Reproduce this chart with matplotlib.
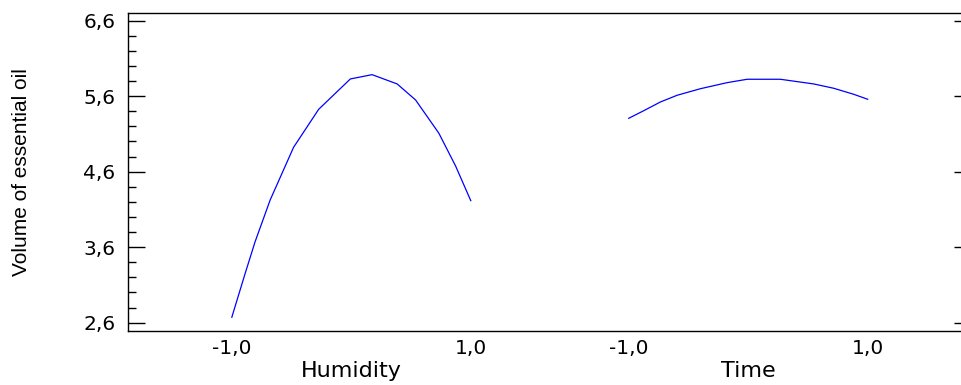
import matplotlib
matplotlib.use('Agg')
import matplotlib.pyplot as plt
from matplotlib.ticker import MultipleLocator

# Main effects plot (comma decimals, as in the original)
humidity_x = [-1.0, -0.888, -0.805, -0.679, -0.483, -0.273, -0.008, 0.174, 0.384, 0.538, 0.733, 0.873, 1.0]
humidity_y = [2.672, 3.254, 3.673, 4.225, 4.923, 5.426, 5.828, 5.885, 5.762, 5.550, 5.109, 4.675, 4.216]

time_x = [-1.0, -0.874, -0.735, -0.595, -0.400, -0.177, -0.009, 0.269, 0.548, 0.715, 0.883, 1.0]
time_y = [5.307, 5.408, 5.523, 5.612, 5.699, 5.779, 5.824, 5.824, 5.762, 5.705, 5.625, 5.559]

factor_names = ['Humidity', 'Time']
y_ticks = [2.6, 3.6, 4.6, 5.6, 6.6]
y_tick_labels = ['2,6', '3,6', '4,6', '5,6', '6,6']
x_tick_labels = ['-1,0', '1,0', '-1,0', '1,0']

# deslocamento do segundo fator no eixo x
offset = 3.322

fig = plt.figure(figsize=(9.62, 3.85), dpi=100)
ax = fig.add_axes([0.1331, 0.1403, 0.8763, 0.826])

ax.plot(humidity_x, humidity_y, color='#0000ff', linewidth=0.9)
ax.plot([x + offset for x in time_x], time_y, color='#0000ff', linewidth=0.9)

ax.set_xlim(-1.8685, 1 + offset + 0.865)
ax.set_ylim(2.49, 6.702)

# eixo y
ax.set_yticks(y_ticks)
ax.set_yticklabels(y_tick_labels, fontfamily='DejaVu Sans', fontsize=14.5,
                   va='center_baseline')
ax.yaxis.set_minor_locator(MultipleLocator(0.2))
ax.tick_params(axis='y', which='major', direction='in', length=12, width=1,
               right=True, pad=9)
ax.tick_params(axis='y', which='minor', direction='in', length=6, width=1,
               right=False)
ax.set_ylabel('Volume of essential oil', fontfamily='Liberation Sans', fontsize=15,
              labelpad=38)

# eixo x
ax.set_xticks([-1, 1, -1 + offset, 1 + offset])
ax.set_xticklabels(x_tick_labels, fontfamily='DejaVu Sans', fontsize=14.5)
ax.tick_params(axis='x', length=0, pad=6)

for name, center in zip(factor_names, [0, offset]):
    ax.text(center, -0.095, name, transform=ax.get_xaxis_transform(),
            ha='center', va='top', fontfamily='DejaVu Sans', fontsize=16)

for s in ax.spines.values():
    s.set_linewidth(1)

plt.savefig('out.png', dpi=100)
